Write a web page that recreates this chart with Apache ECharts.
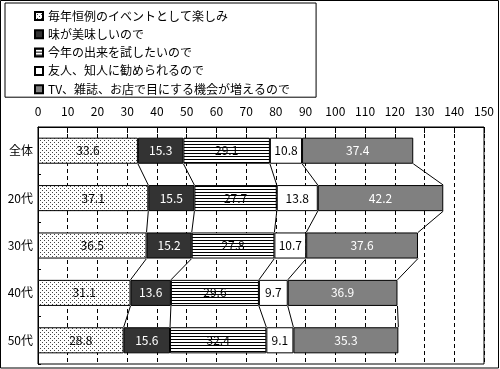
<!DOCTYPE html>
<html>
<head>
<meta charset="utf-8">
<script src="https://cdn.jsdelivr.net/npm/echarts@6/dist/echarts.min.js"></script>
<style>
  html, body { margin: 0; padding: 0; background: #fff; }
  #main { width: 500px; height: 369px; }
</style>
</head>
<body>
<div id="main"></div>
<script>
// 年代別の理由（積み上げ）
var categories = ['全体', '20代', '30代', '40代', '50代'];
var seriesNames = [
  '毎年恒例のイベントとして楽しみ',
  '味が美味しいので',
  '今年の出来を試したいので',
  '友人、知人に勧められるので',
  'TV、雑誌、お店で目にする機会が増えるので'
];
var enjoyData = [33.6, 37.1, 36.5, 31.1, 28.8];
var tasteData = [15.3, 15.5, 15.2, 13.6, 15.6];
var tryData = [29.1, 27.7, 27.8, 29.6, 32.4];
var friendData = [10.8, 13.8, 10.7, 9.7, 9.1];
var mediaData = [37.4, 42.2, 37.6, 36.9, 35.3];
var xTicks = [0, 10, 20, 30, 40, 50, 60, 70, 80, 90, 100, 110, 120, 130, 140, 150];

var FONT = 'Noto Sans CJK JP';
var BAR_RATIO = 0.55;

// 塗りパターン
function makeDots() {
  var c = document.createElement('canvas');
  c.width = 4; c.height = 4;
  var ctx = c.getContext('2d');
  ctx.fillStyle = '#fff';
  ctx.fillRect(0, 0, 4, 4);
  ctx.fillStyle = '#444';
  ctx.fillRect(0, 0, 1, 1);
  ctx.fillRect(2, 2, 1, 1);
  return c;
}
function makeStripes() {
  var c = document.createElement('canvas');
  c.width = 4; c.height = 3;
  var ctx = c.getContext('2d');
  ctx.fillStyle = '#fff';
  ctx.fillRect(0, 0, 4, 3);
  ctx.fillStyle = '#000';
  ctx.fillRect(0, 0, 4, 1);
  return c;
}

var allData = [enjoyData, tasteData, tryData, friendData, mediaData];
var fills = [
  { image: makeDots(), repeat: 'repeat' },
  '#333333',
  { image: makeStripes(), repeat: 'repeat' },
  '#ffffff',
  '#808080'
];
var labelColors = ['#000', '#fff', '#000', '#000', '#fff'];

// 累積値（区分線用）
var cums = categories.map(function (c, i) {
  var s = 0;
  return allData.map(function (arr) { s += arr[i]; return s; });
});

var barSeries = allData.map(function (arr, k) {
  return {
    name: seriesNames[k],
    type: 'bar',
    stack: 'total',
    barWidth: (BAR_RATIO * 100) + '%',
    data: arr,
    itemStyle: { color: fills[k], borderColor: '#000', borderWidth: 1 },
    label: {
      show: true,
      position: 'inside',
      color: labelColors[k],
      fontFamily: FONT,
      fontSize: 12
    },
    emphasis: { disabled: true }
  };
});

var linkSeries = {
  type: 'custom',
  silent: true,
  encode: { x: 0, y: 1 },
  data: [[0, 0], [0, 1], [0, 2], [0, 3]],
  renderItem: function (params, api) {
    var i = api.value(1);
    var half = api.size([0, 1])[1] * BAR_RATIO / 2;
    var children = [];
    for (var k = 0; k < 5; k++) {
      var p1 = api.coord([cums[i][k], i]);
      var p2 = api.coord([cums[i + 1][k], i + 1]);
      children.push({
        type: 'line',
        shape: { x1: p1[0], y1: p1[1] + half, x2: p2[0], y2: p2[1] - half },
        style: { stroke: '#000', lineWidth: 1 }
      });
    }
    return { type: 'group', children: children };
  }
};

var chart = echarts.init(document.getElementById('main'));
chart.setOption({
  animation: false,
  backgroundColor: '#fff',
  textStyle: { fontFamily: FONT },
  graphic: [{
    type: 'rect',
    shape: { x: 0.5, y: 0.5, width: 498, height: 367.5 },
    style: { fill: 'none', stroke: '#000', lineWidth: 1 },
    silent: true
  }],
  legend: {
    data: seriesNames,
    orient: 'vertical',
    left: 5,
    top: 3,
    padding: [6, 26, 1, 29],
    itemGap: 4.3,
    itemWidth: 8,
    itemHeight: 8,
    icon: 'rect',
    borderColor: '#000',
    borderWidth: 1,
    backgroundColor: '#fff',
    textStyle: { fontFamily: FONT, fontSize: 12, color: '#000', lineHeight: 14 },
    selectedMode: false
  },
  grid: {
    left: 38, right: 16, top: 127, bottom: 5,
    show: true, borderColor: '#000', borderWidth: 1, backgroundColor: 'transparent'
  },
  xAxis: {
    type: 'value',
    position: 'top',
    min: xTicks[0],
    max: xTicks[xTicks.length - 1],
    interval: 10,
    axisLine: { show: true, lineStyle: { color: '#000' } },
    axisTick: { show: true, inside: true, length: 6, lineStyle: { color: '#000' } },
    axisLabel: { color: '#000', fontSize: 12, fontFamily: FONT, margin: 10 },
    splitLine: { show: true, lineStyle: { color: '#000', type: [4, 3] } }
  },
  yAxis: {
    type: 'category',
    inverse: true,
    data: categories,
    axisLine: { show: true, lineStyle: { color: '#000' } },
    axisTick: { show: true, inside: true, length: 3, lineStyle: { color: '#000' } },
    axisLabel: { color: '#000', fontSize: 12, fontFamily: FONT, margin: 5 }
  },
  series: barSeries.concat([linkSeries])
});
</script>
</body>
</html>
